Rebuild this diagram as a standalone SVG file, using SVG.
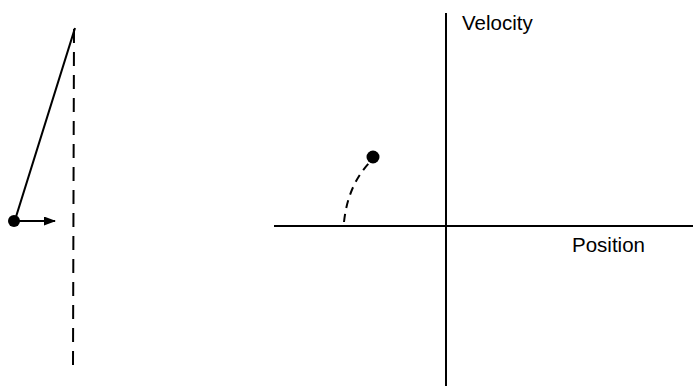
<svg xmlns="http://www.w3.org/2000/svg" width="693" height="388" viewBox="0 0 693 388">
<style>
.ln{stroke:#000;stroke-width:2;fill:none}
.ds{stroke:#000;stroke-width:2;fill:none;stroke-dasharray:14 9}
.lbl{font-family:"Liberation Sans",Arial,sans-serif;font-size:20.5px;fill:#000}
</style>
<defs>
<marker id="ah" markerWidth="12" markerHeight="9" refX="11" refY="4.5" orient="auto" markerUnits="userSpaceOnUse">
<path d="M0,0 L12,4.5 L0,9 Z" fill="#000"/>
</marker>
</defs>
<rect width="693" height="388" fill="#fff"/>
<g id="pendulum">
<line class="ds" x1="74" y1="29" x2="73" y2="366"/>
<line class="ln" x1="75" y1="28" x2="15" y2="220"/>
<line class="ln" x1="15" y1="221" x2="55" y2="221" marker-end="url(#ah)"/>
<circle cx="14" cy="221" r="6" fill="#000"/>
</g>
<g id="phase-plot">
<line class="ln" x1="446" y1="13" x2="446" y2="386"/>
<line class="ln" x1="274" y1="226" x2="693" y2="226"/>
<text class="lbl" x="462" y="30">Velocity</text>
<text class="lbl" x="572" y="252">Position</text>
<path d="M344,222 Q348,185 370,162" stroke="#000" stroke-width="2" fill="none" stroke-dasharray="8 6"/>
<circle cx="373" cy="157" r="6.5" fill="#000"/>
</g>
</svg>
